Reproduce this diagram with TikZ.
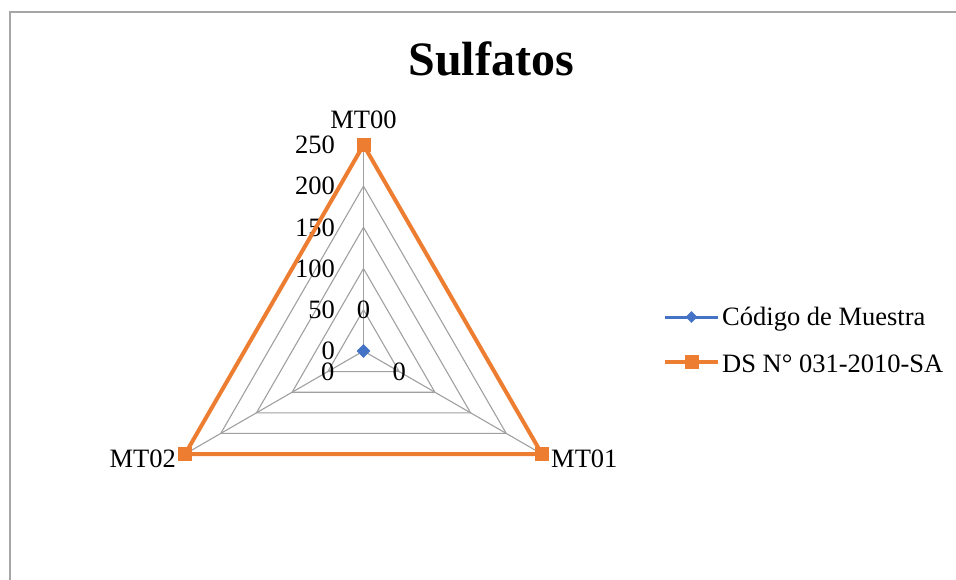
\documentclass[tikz,border=0pt]{standalone}
\usepackage{fontspec}
\setmainfont{Liberation Serif}
\usetikzlibrary{calc,shapes.geometric}
\definecolor{dsorange}{HTML}{ED7D31}
\definecolor{msblue}{HTML}{4472C4}
\definecolor{gridgray}{HTML}{A0A0A0}
\definecolor{framegray}{HTML}{A6A6A6}

\begin{document}
\begin{tikzpicture}[x=1pt,y=-1pt,
  gridline/.style={gridgray,line width=1.1pt},
  lbl/.style={inner sep=0pt,font=\fontsize{26.5}{30}\selectfont},
  dsline/.style={dsorange,line width=4pt},
  msline/.style={msblue,line width=3pt},
  dsmark/.style={rectangle,fill=dsorange,inner sep=0pt,minimum size=14pt},
  msmark/.style={diamond,fill=msblue,inner sep=0pt,minimum size=14pt}]
  \useasboundingbox (0,0) rectangle (956,580);
  \draw[framegray,line width=1.2pt] (956,12) -- (10,12) -- (10,580);
  \node[anchor=base,inner sep=0pt,font=\fontsize{48}{52}\selectfont\bfseries] (title) at (491,76) {Sulfatos};
  % axes of the chart
  \coordinate (c) at (363.5,351);
  \coordinate (mt00) at (363.5,145);
  \coordinate (mt01) at (541.9,454);
  \coordinate (mt02) at (185.1,454);
  \foreach \r in {50,100,...,250}
    \draw[gridline] ($(c)!\r/250!(mt00)$) -- ($(c)!\r/250!(mt01)$) -- ($(c)!\r/250!(mt02)$) -- cycle;
  \foreach \v in {mt00,mt01,mt02}
    \draw[gridline] (c) -- (\v);
  \node[lbl,anchor=base] (l00) at (363.5,129) {MT00};
  \node[lbl,anchor=base west] (l01) at (551,467) {MT01};
  \node[lbl,anchor=base east] (l02) at (176,467) {MT02};
  \foreach \r in {0,50,...,250}
    \node[lbl,anchor=east] (t\r) at ($(c)!\r/250!(mt00) + (-28.5,0)$) {\r};
  % DS N 031-2010-SA
  \draw[dsline] (mt00) -- (mt01) -- (mt02) -- cycle;
  \foreach \v in {mt00,mt01,mt02}
    \node[dsmark] at (\v) {};
  % Codigo de Muestra
  \node[msmark] (m) at (c) {};
  \node[lbl] (z00) at ($(c)!0.2!(mt00)$) {0};
  \node[lbl] (z01) at ($(c)!0.2!(mt01)$) {0};
  \node[lbl] (z02) at ($(c)!0.2!(mt02)$) {0};
  % legend
  \coordinate (ms1) at (665,317);
  \coordinate (ms2) at (718,317);
  \coordinate (ds1) at (665,362);
  \coordinate (ds2) at (718,362);
  \draw[msline] (ms1) -- (ms2);
  \node[msmark,minimum size=12pt] at ($(ms1)!0.5!(ms2)$) {};
  \draw[dsline] (ds1) -- (ds2);
  \node[dsmark] at ($(ds1)!0.5!(ds2)$) {};
  \node[lbl,anchor=base west] (legms) at (722,325) {Código de Muestra};
  \node[lbl,anchor=base west] (legds) at (722,372) {DS N° 031-2010-SA};
\end{tikzpicture}
\end{document}
